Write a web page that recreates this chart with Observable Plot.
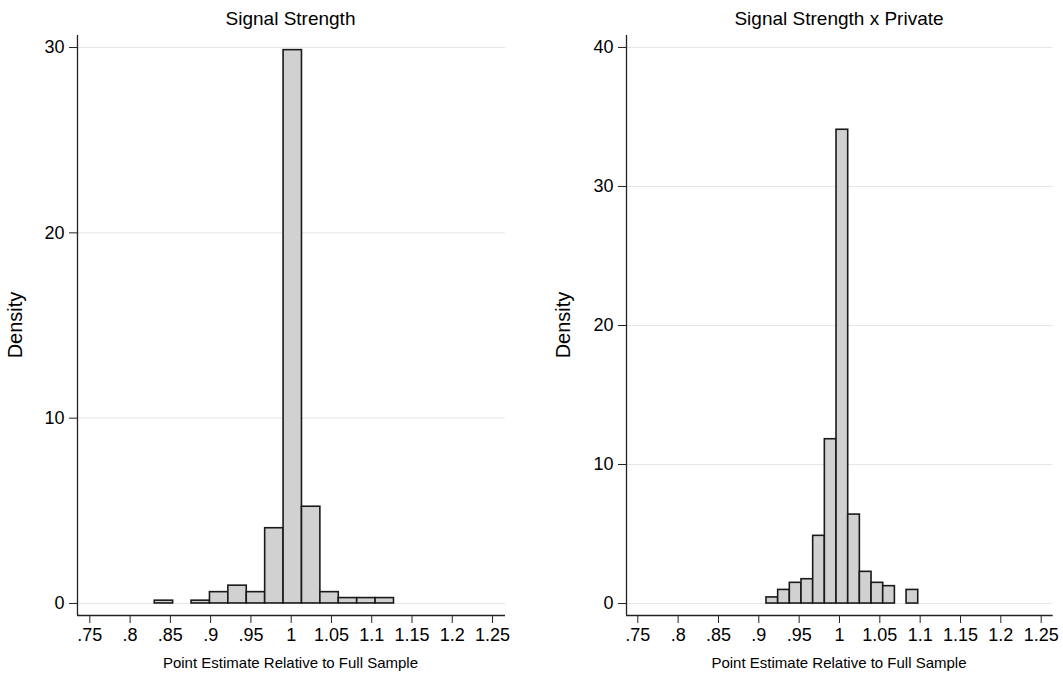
<!DOCTYPE html>
<html>
<head>
<meta charset="utf-8">
<script src="https://cdn.jsdelivr.net/npm/d3@7"></script>
<script src="https://cdn.jsdelivr.net/npm/@observablehq/plot@0.6"></script>
<style>
  body { margin: 0; background: #fff; }
  #chart { position: relative; width: 1063px; height: 674px; background: #fff;
           font-family: "Liberation Sans", Arial, Helvetica, sans-serif; color: #000; }
  .panel { position: absolute; top: 0; }
  .title { position: absolute; font-size: 19px; line-height: 19px; white-space: nowrap; transform: translateX(-50%); }
  .xlab { position: absolute; font-size: 15px; line-height: 15px; white-space: nowrap; transform: translateX(-50%); }
  .ylab { position: absolute; font-size: 20px; line-height: 20px; white-space: nowrap;
          transform: translate(-50%, -50%) rotate(-90deg); }
</style>
</head>
<body>
<div id="chart"></div>
<script>
// Histogram of point estimates relative to the full-sample estimate.
// Left panel: Signal Strength
const leftBinStart = 0.8306;
const leftBinWidth = 0.02285;
const leftDensity = [0.15, 0, 0.15, 0.61, 0.96, 0.61, 4.06, 29.86, 5.22, 0.61, 0.29, 0.29, 0.29];
const leftYTicks = [0, 10, 20, 30];

// Right panel: Signal Strength x Private
const rightBinStart = 0.9095;
const rightBinWidth = 0.01447;
const rightDensity = [0.44, 0.98, 1.49, 1.75, 4.87, 11.82, 34.08, 6.40, 2.28, 1.49, 1.25, 0, 0.98];
const rightYTicks = [0, 10, 20, 30, 40];

// Shared x axis
const xTicks = [0.75, 0.8, 0.85, 0.9, 0.95, 1, 1.05, 1.1, 1.15, 1.2, 1.25];
const xTickLabels = [".75", ".8", ".85", ".9", ".95", "1", "1.05", "1.1", "1.15", "1.2", "1.25"];

const titles = ["Signal Strength", "Signal Strength x Private"];
const xTitle = "Point Estimate Relative to Full Sample";
const yTitle = "Density";

function bins(start, width, dens) {
  return dens.map((d, i) => ({x1: start + i * width, x2: start + (i + 1) * width, density: d}))
             .filter(b => b.density > 0);
}

function panel({data, yTicks, xDomain, yDomain, width, marginLeft, marginRight}) {
  const svg = Plot.plot({
    width, height: 674,
    marginLeft, marginRight, marginTop: 35, marginBottom: 59,
    style: {fontFamily: '"Liberation Sans", Arial, Helvetica, sans-serif', fontSize: "18px", color: "#000", background: "transparent", overflow: "visible"},
    x: {domain: xDomain},
    y: {domain: yDomain},
    marks: [
      Plot.ruleY(yTicks, {stroke: "#e6e6e6", strokeWidth: 1}),
      Plot.rect(data, {x1: "x1", x2: "x2", y1: 0, y2: "density", fill: "#d1d1d1", stroke: "#1a1a1a", strokeWidth: 1.6}),
      Plot.axisX(xTicks, {tickSize: 8, tickPadding: 5, stroke: "#222", fontSize: 18,
        tickFormat: (d) => xTickLabels[xTicks.indexOf(d)], label: null}),
      Plot.axisY(yTicks, {tickSize: 8, tickPadding: 5, stroke: "#222", fontSize: 18, label: null}),
      Plot.ruleX([xDomain[0]], {stroke: "#222", strokeWidth: 1.3}),
      Plot.ruleY([yDomain[0]], {stroke: "#222", strokeWidth: 1.3})
    ]
  });
  // tick labels at full size
  svg.querySelectorAll("text").forEach((t) => { t.style.fontSize = "18px"; t.style.fill = "#000"; });
  return svg;
}

const chart = document.getElementById("chart");

const specs = [
  {left: 0, width: 531, marginLeft: 77, marginRight: 26,
   xDomain: [0.7347, 1.2661], yDomain: [-0.65, 30.65], yTicks: leftYTicks,
   data: bins(leftBinStart, leftBinWidth, leftDensity),
   titleX: 290.5, ylabX: 15},
  {left: 531, width: 532, marginLeft: 95, marginRight: 10.3,
   xDomain: [0.736, 1.2649], yDomain: [-0.86, 40.86], yTicks: rightYTicks,
   data: bins(rightBinStart, rightBinWidth, rightDensity),
   titleX: 839, ylabX: 563}
];

specs.forEach((s, i) => {
  const wrap = document.createElement("div");
  wrap.className = "panel";
  wrap.style.left = s.left + "px";
  wrap.style.width = s.width + "px";
  wrap.appendChild(panel(s));
  chart.appendChild(wrap);

  const t = document.createElement("div");
  t.className = "title";
  t.textContent = titles[i];
  t.style.left = s.titleX + "px";
  t.style.top = "9px";
  chart.appendChild(t);

  const xl = document.createElement("div");
  xl.className = "xlab";
  xl.textContent = xTitle;
  xl.style.left = s.titleX + "px";
  xl.style.top = "655px";
  chart.appendChild(xl);

  const yl = document.createElement("div");
  yl.className = "ylab";
  yl.textContent = yTitle;
  yl.style.left = s.ylabX + "px";
  yl.style.top = "325px";
  chart.appendChild(yl);
});
</script>
</body>
</html>
